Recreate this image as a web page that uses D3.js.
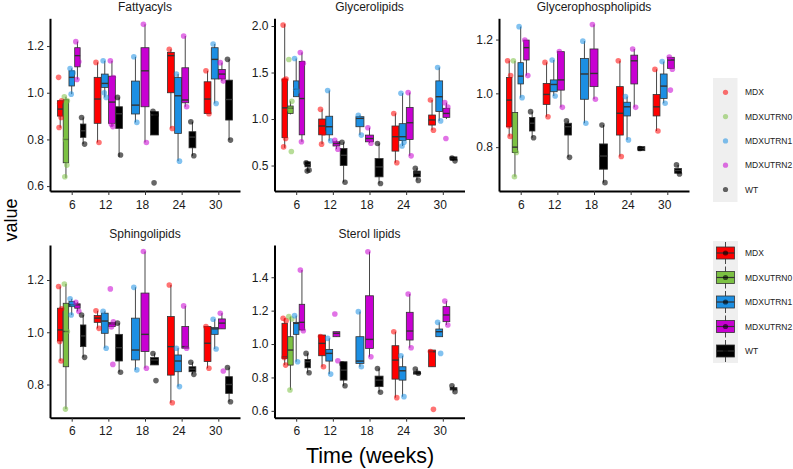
<!DOCTYPE html>
<html lang="en">
<head>
<meta charset="UTF-8">
<title>Lipid classes over time</title>
<script src="https://d3js.org/d3.v7.min.js"></script>
<style>
  body { margin: 0; background: #fff; }
  svg { display: block; font-family: "Liberation Sans", Arial, sans-serif; }
</style>
</head>
<body>
<script>
const groups = ["MDX", "MDXUTRN0", "MDXUTRN1", "MDXUTRN2", "WT"];
const colors = ["#ff0000", "#7cc143", "#1c8fe3", "#c800d2", "#000000"];
const weeks = [6, 12, 18, 24, 30];

// boxes: [week, group, lower whisker, q1, median, q3, upper whisker]
const fattyBox = [
  [6, "MDX", 0.85, 0.90, 0.93, 0.966, 0.966], [6, "MDXUTRN0", 0.635, 0.70, 0.80, 0.97, 0.983],
  [6, "MDXUTRN1", 0.994, 1.029, 1.066, 1.094, 1.104], [6, "MDXUTRN2", 1.057, 1.111, 1.159, 1.193, 1.219],
  [6, "WT", 0.78, 0.809, 0.837, 0.866, 0.894],
  [12, "MDX", 0.787, 0.869, 0.973, 1.066, 1.13], [12, "MDXUTRN1", 0.98, 1.023, 1.04, 1.08, 1.137],
  [12, "MDXUTRN2", 0.855, 0.869, 0.96, 1.071, 1.137], [12, "WT", 0.725, 0.847, 0.91, 0.94, 0.98],
  [18, "MDXUTRN1", 0.873, 0.909, 0.947, 1.05, 1.154], [18, "MDXUTRN2", 0.787, 0.94, 1.094, 1.193, 1.293],
  [18, "WT", 0.819, 0.819, 0.905, 0.919, 0.919],
  [24, "MDX", 0.847, 1.0, 1.159, 1.173, 1.186], [24, "MDXUTRN1", 0.707, 0.826, 0.987, 1.065, 1.08],
  [24, "MDXUTRN2", 0.94, 0.957, 0.969, 1.107, 1.243], [24, "WT", 0.73, 0.764, 0.81, 0.833, 0.876],
  [30, "MDX", 0.91, 0.911, 0.973, 1.047, 1.094], [30, "MDXUTRN1", 0.954, 1.059, 1.143, 1.193, 1.209],
  [30, "MDXUTRN2", 1.05, 1.059, 1.08, 1.1, 1.129], [30, "WT", 0.797, 0.883, 0.971, 1.054, 1.143]
];
// points: [week, group, values]
const fattyPts = [
  [6, "MDX", [1.066, 0.966, 0.955, 0.894, 0.851]], [6, "MDXUTRN0", [0.983, 0.966, 0.80, 0.69, 0.64]],
  [6, "MDXUTRN1", [1.104, 1.085, 0.994]], [6, "MDXUTRN2", [1.219, 1.133, 1.057]], [6, "WT", [0.894, 0.78]],
  [12, "MDX", [1.13, 0.787]], [12, "MDXUTRN1", [1.137, 0.98, 1.0]], [12, "MDXUTRN2", [1.137, 1.065, 0.865, 0.855]],
  [12, "WT", [0.98, 0.733]],
  [18, "MDXUTRN1", [1.154, 0.873]], [18, "MDXUTRN2", [1.293, 0.787]], [18, "WT", [0.92, 0.905, 0.614]],
  [24, "MDX", [1.186, 0.847]], [24, "MDXUTRN1", [1.08, 0.707]], [24, "MDXUTRN2", [1.243, 0.94]], [24, "WT", [0.876, 0.73]],
  [30, "MDX", [1.094, 0.91]], [30, "MDXUTRN1", [1.209, 0.954]], [30, "MDXUTRN2", [1.129, 1.05]], [30, "WT", [1.143, 0.797]]
];
const fattyTicks = [0.6, 0.8, 1.0, 1.2];

const glyBox = [
  [6, "MDX", 0.69, 0.80, 1.12, 1.43, 2.02], [6, "MDXUTRN0", 1.05, 1.06, 1.115, 1.14, 1.19],
  [6, "MDXUTRN1", 1.24, 1.24, 1.32, 1.41, 1.65], [6, "MDXUTRN2", 0.755, 0.83, 1.22, 1.62, 1.716],
  [6, "WT", 0.44, 0.486, 0.51, 0.54, 0.55],
  [12, "MDX", 0.73, 0.83, 0.925, 1.0, 1.104], [12, "MDXUTRN1", 0.766, 0.83, 0.917, 1.03, 1.306],
  [12, "MDXUTRN2", 0.676, 0.71, 0.737, 0.755, 0.77], [12, "WT", 0.32, 0.50, 0.61, 0.683, 0.75],
  [18, "MDXUTRN1", 0.827, 0.917, 1.007, 1.025, 1.04], [18, "MDXUTRN2", 0.74, 0.755, 0.79, 0.827, 0.906],
  [18, "WT", 0.306, 0.378, 0.485, 0.575, 0.737],
  [24, "MDX", 0.53, 0.655, 0.81, 0.925, 1.06], [24, "MDXUTRN1", 0.71, 0.77, 0.81, 0.95, 1.277],
  [24, "MDXUTRN2", 0.604, 0.78, 0.96, 1.125, 1.284], [24, "WT", 0.34, 0.378, 0.42, 0.44, 0.47],
  [30, "MDX", 0.88, 0.935, 0.99, 1.043, 1.205], [30, "MDXUTRN1", 0.98, 1.08, 1.24, 1.41, 1.554],
  [30, "MDXUTRN2", 1.0, 1.018, 1.06, 1.115, 1.176], [30, "WT", 0.55, 0.558, 0.575, 0.593, 0.593]
];
const glyPts = [
  [6, "MDX", [2.01, 1.43, 1.42, 0.79, 0.70]], [6, "MDXUTRN0", [1.64, 1.19, 1.10, 0.65]],
  [6, "MDXUTRN1", [1.65, 1.30, 1.32]], [6, "MDXUTRN2", [1.716, 1.60, 0.755]], [6, "WT", [0.53, 0.45, 0.44]],
  [12, "MDX", [1.104, 0.85, 0.73]], [12, "MDXUTRN1", [1.306, 0.766]], [12, "MDXUTRN2", [0.77, 0.676]], [12, "WT", [0.75, 0.32]],
  [18, "MDXUTRN1", [1.04, 0.827]], [18, "MDXUTRN2", [0.906, 0.74]], [18, "WT", [0.737, 0.306]],
  [24, "MDX", [1.06, 0.53]], [24, "MDXUTRN1", [1.277, 0.75, 0.71]], [24, "MDXUTRN2", [1.284, 0.604]], [24, "WT", [0.47, 0.34]],
  [30, "MDX", [1.205, 0.88]], [30, "MDXUTRN1", [1.554, 0.98]], [30, "MDXUTRN2", [1.176, 1.13, 0.79]], [30, "WT", [0.58, 0.55]]
];
const glyTicks = [0.5, 1.0, 1.5, 2.0];

const gplBox = [
  [6, "MDX", 0.84, 0.876, 0.975, 1.059, 1.121], [6, "MDXUTRN0", 0.69, 0.78, 0.80, 0.929, 1.121],
  [6, "MDXUTRN1", 0.984, 1.035, 1.064, 1.114, 1.248], [6, "MDXUTRN2", 1.066, 1.124, 1.17, 1.198, 1.198],
  [6, "WT", 0.835, 0.86, 0.889, 0.91, 0.932],
  [12, "MDX", 0.913, 0.959, 0.996, 1.037, 1.115], [12, "MDXUTRN1", 0.99, 1.006, 1.033, 1.05, 1.124],
  [12, "MDXUTRN2", 0.948, 1.012, 1.05, 1.155, 1.155], [12, "WT", 0.762, 0.845, 0.876, 0.889, 0.898],
  [18, "MDXUTRN1", 0.889, 0.978, 1.072, 1.13, 1.194], [18, "MDXUTRN2", 0.978, 1.025, 1.074, 1.165, 1.256],
  [18, "WT", 0.668, 0.718, 0.767, 0.812, 0.882],
  [24, "MDX", 0.765, 0.845, 0.926, 1.025, 1.121], [24, "MDXUTRN1", 0.827, 0.916, 0.95, 0.967, 0.988],
  [24, "MDXUTRN2", 0.948, 1.035, 1.121, 1.142, 1.165], [24, "WT", 0.787, 0.787, 0.795, 0.802, 0.802],
  [30, "MDX", 0.86, 0.916, 0.95, 0.996, 1.089], [30, "MDXUTRN1", 0.963, 0.981, 1.027, 1.072, 1.118],
  [30, "MDXUTRN2", 1.09, 1.093, 1.124, 1.134, 1.135], [30, "WT", 0.70, 0.703, 0.713, 0.721, 0.734]
];
const gplPts = [
  [6, "MDX", [1.121, 1.066, 0.88, 0.84]], [6, "MDXUTRN0", [1.121, 0.78, 0.69]], [6, "MDXUTRN1", [1.248, 0.984]],
  [6, "MDXUTRN2", [1.198, 1.066]], [6, "WT", [0.932, 0.835]],
  [12, "MDX", [1.115, 0.913]], [12, "MDXUTRN1", [1.124, 0.99]], [12, "MDXUTRN2", [1.155, 0.948]], [12, "WT", [0.898, 0.762]],
  [18, "MDXUTRN1", [1.194, 0.889]], [18, "MDXUTRN2", [1.256, 0.978]], [18, "WT", [0.882, 0.668]],
  [24, "MDX", [1.121, 0.765]], [24, "MDXUTRN1", [0.988, 0.827]], [24, "MDXUTRN2", [1.165, 0.948]], [24, "WT", [0.795]],
  [30, "MDX", [1.089, 0.86]], [30, "MDXUTRN1", [1.118, 0.963]], [30, "MDXUTRN2", [1.135, 1.09, 1.012]], [30, "WT", [0.734, 0.70]]
];
const gplTicks = [0.8, 1.0, 1.2];

const sphBox = [
  [6, "MDX", 0.89, 0.967, 1.009, 1.092, 1.175], [6, "MDXUTRN0", 0.706, 0.868, 1.003, 1.111, 1.185],
  [6, "MDXUTRN1", 1.066, 1.098, 1.105, 1.118, 1.128], [6, "MDXUTRN2", 1.08, 1.092, 1.105, 1.109, 1.115],
  [6, "WT", 0.904, 0.945, 0.986, 1.028, 1.066],
  [12, "MDX", 1.015, 1.038, 1.054, 1.064, 1.082], [12, "MDXUTRN1", 0.939, 0.996, 1.043, 1.073, 1.08],
  [12, "MDXUTRN2", 1.02, 1.022, 1.032, 1.037, 1.04], [12, "WT", 0.847, 0.89, 0.941, 0.992, 1.035],
  [18, "MDXUTRN1", 0.856, 0.894, 0.932, 1.054, 1.172], [18, "MDXUTRN2", 0.862, 0.926, 0.992, 1.15, 1.309],
  [18, "WT", 0.875, 0.875, 0.894, 0.903, 0.919],
  [24, "MDX", 0.73, 0.836, 0.945, 1.06, 1.181], [24, "MDXUTRN1", 0.792, 0.849, 0.89, 0.913, 0.939],
  [24, "MDXUTRN2", 0.939, 0.939, 0.945, 1.022, 1.101], [24, "WT", 0.839, 0.849, 0.859, 0.868, 0.885],
  [30, "MDX", 0.862, 0.888, 0.958, 1.022, 1.022], [30, "MDXUTRN1", 0.936, 0.992, 1.013, 1.018, 1.05],
  [30, "MDXUTRN2", 1.013, 1.013, 1.035, 1.051, 1.073], [30, "WT", 0.734, 0.766, 0.80, 0.83, 0.865]
];
const sphPts = [
  [6, "MDX", [1.175, 1.09, 0.965, 0.89]], [6, "MDXUTRN0", [1.185, 1.003, 0.706]], [6, "MDXUTRN1", [1.128, 1.108, 1.066]],
  [6, "MDXUTRN2", [1.115, 1.08]], [6, "WT", [1.066, 0.904]],
  [12, "MDX", [1.082, 1.015]], [12, "MDXUTRN1", [1.08, 0.939]], [12, "MDXUTRN2", [1.166, 1.04, 1.02, 0.877]], [12, "WT", [1.035, 0.847]],
  [18, "MDXUTRN1", [1.172, 0.856]], [18, "MDXUTRN2", [1.309, 0.862]], [18, "WT", [0.919, 0.815]],
  [24, "MDX", [1.181, 0.73]], [24, "MDXUTRN1", [0.939, 0.792]], [24, "MDXUTRN2", [1.101, 0.939]], [24, "WT", [0.885, 0.839]],
  [30, "MDX", [1.022, 0.862]], [30, "MDXUTRN1", [1.05, 0.936]], [30, "MDXUTRN2", [1.073, 0.852]], [30, "WT", [0.865, 0.734]]
];
const sphTicks = [0.8, 1.0, 1.2];

const sterBox = [
  [6, "MDX", 0.874, 0.914, 0.924, 1.124, 1.154], [6, "MDXUTRN0", 0.725, 0.874, 0.964, 1.044, 1.164],
  [6, "MDXUTRN1", 0.894, 1.058, 1.124, 1.13, 1.17], [6, "MDXUTRN2", 1.08, 1.084, 1.13, 1.238, 1.443],
  [6, "WT", 0.828, 0.858, 0.894, 0.908, 0.944],
  [12, "MDX", 0.864, 0.93, 1.004, 1.054, 1.054], [12, "MDXUTRN1", 0.82, 0.898, 0.944, 0.968, 1.034],
  [12, "MDXUTRN2", 1.044, 1.044, 1.064, 1.074, 1.074], [12, "WT", 0.75, 0.784, 0.844, 0.894, 0.894],
  [18, "MDXUTRN1", 0.864, 0.884, 0.898, 1.044, 1.194], [18, "MDXUTRN2", 0.924, 0.974, 1.028, 1.289, 1.553],
  [18, "WT", 0.711, 0.745, 0.784, 0.808, 0.854],
  [24, "MDX", 0.679, 0.79, 0.904, 0.99, 1.074], [24, "MDXUTRN1", 0.685, 0.784, 0.84, 0.864, 0.93],
  [24, "MDXUTRN2", 0.978, 1.024, 1.078, 1.19, 1.30], [24, "WT", 0.82, 0.82, 0.827, 0.834, 0.85],
  [30, "MDX", 0.864, 0.864, 0.954, 0.964, 0.964], [30, "MDXUTRN1", 1.044, 1.044, 1.074, 1.09, 1.13],
  [30, "MDXUTRN2", 1.114, 1.134, 1.174, 1.224, 1.257], [30, "WT", 0.715, 0.725, 0.73, 0.739, 0.75]
];
const sterPts = [
  [6, "MDX", [1.154, 1.14, 0.92, 0.874]], [6, "MDXUTRN0", [1.164, 1.15, 0.725]], [6, "MDXUTRN1", [1.17, 0.894]],
  [6, "MDXUTRN2", [1.443, 1.08]], [6, "WT", [0.944, 0.828]],
  [12, "MDX", [1.045, 0.864]], [12, "MDXUTRN1", [1.034, 0.82]], [12, "MDXUTRN2", [1.18, 0.90]], [12, "WT", [0.88, 0.75]],
  [18, "MDXUTRN1", [1.194, 0.864]], [18, "MDXUTRN2", [1.553, 0.924]], [18, "WT", [0.854, 0.711]],
  [24, "MDX", [1.074, 0.679]], [24, "MDXUTRN1", [0.93, 0.685]], [24, "MDXUTRN2", [1.30, 0.978]], [24, "WT", [0.85, 0.825]],
  [30, "MDX", [0.955, 0.609]], [30, "MDXUTRN1", [1.13, 0.944]], [30, "MDXUTRN2", [1.257, 1.114]], [30, "WT", [0.75, 0.715]]
];
const sterTicks = [0.6, 0.8, 1.0, 1.2, 1.4];

const panels = [
  { title: "Fattyacyls", box: fattyBox, pts: fattyPts, ticks: fattyTicks, x: [50, 240], y: [191, 18.3], dom: [0.579, 1.319] },
  { title: "Glycerolipids", box: glyBox, pts: glyPts, ticks: glyTicks, x: [274.5, 464.5], y: [191, 18.3], dom: [0.226, 2.083] },
  { title: "Glycerophospholipids", box: gplBox, pts: gplPts, ticks: gplTicks, x: [499, 689], y: [191, 18.3], dom: [0.637, 1.279] },
  { title: "Sphingolipids", box: sphBox, pts: sphPts, ticks: sphTicks, x: [50, 240], y: [417.7, 245], dom: [0.673, 1.334] },
  { title: "Sterol lipids", box: sterBox, pts: sterPts, ticks: sterTicks, x: [274.5, 464.5], y: [417.7, 245], dom: [0.559, 1.593] }
];

const width = 793, height = 469;
const color = d3.scaleOrdinal(groups, colors);
const dodge = 4.7;   // weeks shared by the boxes at one time point
const jit = [-1.6, 1.4, -0.5, 0.9, -1.1];

const svg = d3.select("body").append("svg")
  .attr("width", width)
  .attr("height", height);

panels.forEach(p => {
  const x = d3.scaleLinear().domain([2.45, 33.55]).range(p.x);
  const y = d3.scaleLinear().domain(p.dom).range(p.y);
  const g = svg.append("g");
  const pxWeek = x(1) - x(0);

  // dodge position for each group at each time
  const pos = {};
  weeks.forEach(w => {
    const present = p.box.filter(b => b[0] === w).map(b => b[1]);
    const n = present.length;
    const slot = dodge * pxWeek / n;
    present.forEach((grp, i) => {
      pos[w + grp] = { cx: x(w) - dodge * pxWeek / 2 + slot * (i + 0.5), bw: Math.min(slot * 0.95, 8) };
    });
  });

  // title
  g.append("text")
    .attr("x", (p.x[0] + p.x[1]) / 2)
    .attr("y", p.y[1] - 7)
    .attr("text-anchor", "middle")
    .attr("font-size", 12)
    .attr("fill", "#1a1a1a")
    .text(p.title);

  // boxes
  const bx = g.selectAll("g.box").data(p.box).enter().append("g");
  bx.append("line")
    .attr("x1", d => pos[d[0] + d[1]].cx).attr("x2", d => pos[d[0] + d[1]].cx)
    .attr("y1", d => y(d[2])).attr("y2", d => y(d[6]))
    .attr("stroke", "#333").attr("stroke-width", 0.9);
  bx.append("rect")
    .attr("x", d => pos[d[0] + d[1]].cx - pos[d[0] + d[1]].bw / 2)
    .attr("width", d => pos[d[0] + d[1]].bw)
    .attr("y", d => y(d[5]))
    .attr("height", d => Math.max(y(d[3]) - y(d[5]), 1))
    .attr("fill", d => color(d[1]))
    .attr("stroke", "#333").attr("stroke-width", 0.8);
  bx.append("line")
    .attr("x1", d => pos[d[0] + d[1]].cx - pos[d[0] + d[1]].bw / 2)
    .attr("x2", d => pos[d[0] + d[1]].cx + pos[d[0] + d[1]].bw / 2)
    .attr("y1", d => y(d[4])).attr("y2", d => y(d[4]))
    .attr("stroke", "#333").attr("stroke-width", 1.4);

  // points
  const pts = p.pts.flatMap(d => d[2].map((v, i) => ({ w: d[0], grp: d[1], v, i })));
  g.selectAll("circle.pt").data(pts).enter().append("circle")
    .attr("cx", d => pos[d.w + d.grp].cx + jit[d.i % jit.length])
    .attr("cy", d => y(d.v))
    .attr("r", 2.8)
    .attr("fill", d => color(d.grp))
    .attr("fill-opacity", d => d.grp === "WT" ? 0.6 : 0.55);

  // axes
  const xAxis = g.append("g")
    .attr("transform", `translate(0,${p.y[0]})`)
    .call(d3.axisBottom(x).tickValues(weeks).tickSize(4).tickSizeOuter(0));
  xAxis.selectAll("text")
    .attr("text-anchor", "end")
    .attr("dx", "0.3em")
    .attr("y", 9)
    .attr("font-size", 12)
    .attr("font-family", "Liberation Sans, Arial, sans-serif")
    .attr("fill", "#1a1a1a");

  const yAxis = g.append("g")
    .attr("transform", `translate(${p.x[0]},0)`)
    .call(d3.axisLeft(y).tickValues(p.ticks).tickFormat(d3.format(".1f")).tickSize(3).tickSizeOuter(0));
  yAxis.selectAll("text")
    .attr("x", -6)
    .attr("font-size", 12)
    .attr("font-family", "Liberation Sans, Arial, sans-serif")
    .attr("fill", "#1a1a1a");

  [xAxis, yAxis].forEach(a => {
    a.select(".domain").attr("stroke", "#000").attr("stroke-width", 2);
    a.selectAll(".tick line").attr("stroke", "#333");
  });
});

// axis titles
svg.append("text")
  .attr("transform", "translate(17,220) rotate(-90)")
  .attr("text-anchor", "middle")
  .attr("font-size", 18)
  .text("value");

svg.append("text")
  .attr("x", 370)
  .attr("y", 463)
  .attr("text-anchor", "middle")
  .attr("font-size", 21.5)
  .text("Time (weeks)");

// legend for points
const leg1 = svg.append("g");
leg1.append("rect").attr("x", 713).attr("y", 78).attr("width", 24.5).attr("height", 124).attr("fill", "#efefef");
groups.forEach((grp, i) => {
  const cy = 92.3 + i * 24.3;
  leg1.append("circle").attr("cx", 725.5).attr("cy", cy).attr("r", 2.6)
    .attr("fill", color(grp)).attr("fill-opacity", grp === "WT" ? 0.6 : 0.55);
  leg1.append("text").attr("x", 745).attr("y", cy + 3).attr("font-size", 8.5).attr("fill", "#222").text(grp);
});

// legend for boxes
const leg2 = svg.append("g");
leg2.append("rect").attr("x", 713).attr("y", 241).attr("width", 25).attr("height", 122).attr("fill", "#efefef");
groups.forEach((grp, i) => {
  const cy = 253 + i * 24.5;
  leg2.append("line").attr("x1", 725.5).attr("x2", 725.5).attr("y1", cy - 11).attr("y2", cy + 11)
    .attr("stroke", "#333").attr("stroke-width", 0.9);
  leg2.append("rect").attr("x", 716.5).attr("y", cy - 6).attr("width", 18).attr("height", 12)
    .attr("fill", color(grp)).attr("stroke", "#333").attr("stroke-width", 0.8);
  leg2.append("line").attr("x1", 716.5).attr("x2", 734.5).attr("y1", cy).attr("y2", cy)
    .attr("stroke", "#333").attr("stroke-width", 1.2);
  leg2.append("circle").attr("cx", 725.5).attr("cy", cy).attr("r", 2.6)
    .attr("fill", "#000").attr("fill-opacity", 0.6);
  leg2.append("text").attr("x", 745).attr("y", cy + 3).attr("font-size", 8.5).attr("fill", "#222").text(grp);
});
</script>
</body>
</html>
